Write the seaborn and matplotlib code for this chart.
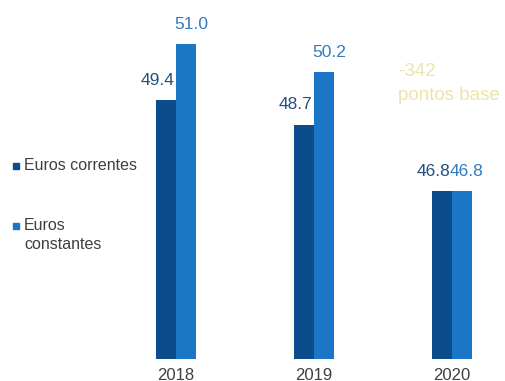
import matplotlib
matplotlib.use("Agg")
import matplotlib.pyplot as plt
from matplotlib.patches import Rectangle
import seaborn as sns
import pandas as pd

years = ["2018", "2019", "2020"]
series = ["Euros correntes", "Euros constantes"]
correntes = [49.4, 48.7, 46.8]
constantes = [51.0, 50.2, 46.8]
note_lines = ["-342", "pontos base"]

dark_blue = "#0b4c8c"
light_blue = "#1c76c6"
dark_label = "#23507e"
light_label = "#2f7cc0"
gray_text = "#3f3f3f"
note_color = "#ede4ad"

df = pd.DataFrame({
    "ano": years * 2,
    "serie": [series[0]] * len(years) + [series[1]] * len(years),
    "valor": correntes + constantes,
})

sns.set_theme(style="white")
plt.rcParams["font.family"] = ["Liberation Sans", "DejaVu Sans"]

W, H = 505, 381
fig = plt.figure(figsize=(W / 100, H / 100), dpi=100)
fig.patch.set_facecolor("white")

# axes span the whole width; baseline of the bars sits 22 px above the bottom
ax = fig.add_axes([0, 22 / H, 1, 1 - 22 / H])
ax.set_facecolor("white")

sns.barplot(data=df, x="ano", y="valor", hue="serie", hue_order=series,
            palette=[dark_blue, light_blue], width=0.285, gap=0,
            saturation=1, linewidth=0, legend=False, ax=ax)

# category 0 centred at x=176 px, 138 px between categories
ax.set_xlim(-176 / 138, (W - 176) / 138)
ax.set_ylim(42.0, 52.26)
ax.axis("off")

# value labels above each bar
for container, color, dx in zip(ax.containers, [dark_label, light_label], [-9, 5]):
    for bar in container:
        h = bar.get_height() + bar.get_y()
        ax.annotate(f"{h:.1f}", xy=(bar.get_x() + bar.get_width() / 2, h),
                    xytext=(dx, 20), textcoords="offset pixels",
                    ha="center", va="center", fontsize=12.5, color=color)

# year labels below the groups
for i, y in enumerate(years):
    ax.annotate(y, xy=(i, 42.0), xytext=(0, -16), textcoords="offset pixels",
                ha="center", va="center", fontsize=12, color=gray_text,
                annotation_clip=False)

# note about the change in basis points
fig.text(398 / W, 1 - 72 / H, note_lines[0], fontsize=13.5, color=note_color,
         ha="left", va="center")
fig.text(398 / W, 1 - 95 / H, note_lines[1], fontsize=13.5, color=note_color,
         ha="left", va="center")

# legend drawn at the left margin
fig.patches.append(Rectangle((13 / W, 1 - 169 / H), 6 / W, 6 / H,
                             transform=fig.transFigure, color=dark_blue))
fig.text(24 / W, 1 - 166 / H, series[0], fontsize=11.5, color=gray_text,
         ha="left", va="center")
fig.patches.append(Rectangle((13 / W, 1 - 229 / H), 6 / W, 6 / H,
                             transform=fig.transFigure, color=light_blue))
fig.text(24 / W, 1 - 226 / H, "Euros", fontsize=11.5, color=gray_text,
         ha="left", va="center")
fig.text(24 / W, 1 - 244 / H, "constantes", fontsize=11.5, color=gray_text,
         ha="left", va="center")

fig.savefig("out.png", dpi=100, facecolor="white")
